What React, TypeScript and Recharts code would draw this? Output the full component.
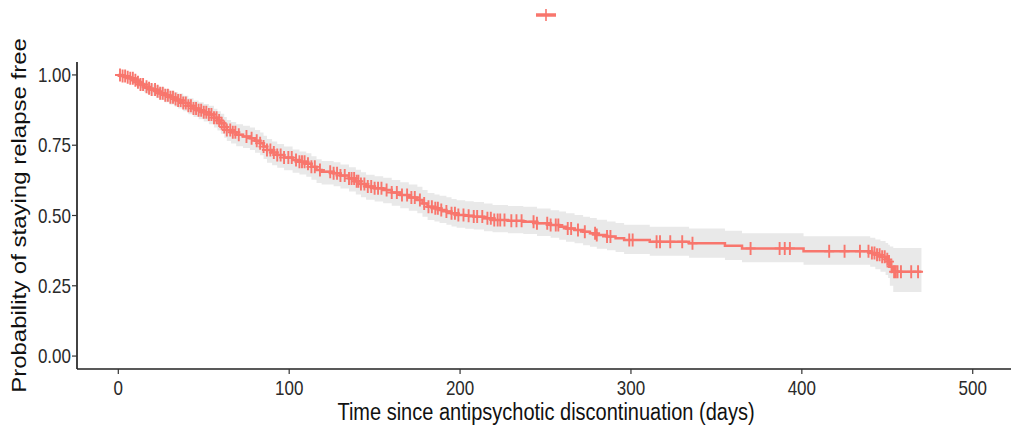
import React from "react";
import { ComposedChart, Area, Line, Scatter, XAxis, YAxis, Legend } from "recharts";

const RED = "#F8766D";
const FONT = "'Liberation Sans', Arial, Helvetica, sans-serif";

// Kaplan-Meier steps
const eventDays = [
  0, 2, 5, 7, 9, 11, 13, 15, 17, 19, 22, 24, 27, 30, 33, 35, 38, 41, 44, 47, 50, 53, 56, 58, 60, 62,
  63.5, 66, 69, 73, 77, 80, 83, 85, 87, 90, 93, 97, 102, 106, 110, 113, 116, 119, 126, 130, 135, 139,
  142, 145, 150, 155, 160, 165, 170, 175, 178, 181, 185, 188, 192, 195, 198, 203, 208, 214, 219, 228,
  237, 245, 253, 258, 262, 267, 272, 276, 280, 286, 291, 296, 311, 334, 355, 365, 401, 440, 443, 446,
  449, 450.5, 451.5, 453.5, 470,
];
const survival = [
  1.0, 0.996, 0.992, 0.988, 0.981, 0.974, 0.966, 0.958, 0.953, 0.948, 0.942, 0.935, 0.928, 0.921,
  0.914, 0.909, 0.9, 0.89, 0.881, 0.874, 0.867, 0.859, 0.848, 0.838, 0.828, 0.815, 0.804, 0.796, 0.787,
  0.781, 0.775, 0.766, 0.757, 0.745, 0.733, 0.724, 0.715, 0.706, 0.697, 0.691, 0.684, 0.673, 0.662,
  0.656, 0.65, 0.642, 0.632, 0.622, 0.612, 0.603, 0.597, 0.591, 0.582, 0.573, 0.564, 0.555, 0.543,
  0.531, 0.526, 0.52, 0.514, 0.508, 0.502, 0.499, 0.496, 0.49, 0.484, 0.481, 0.478, 0.472, 0.466, 0.46,
  0.454, 0.448, 0.442, 0.437, 0.431, 0.425, 0.419, 0.413, 0.407, 0.401, 0.392, 0.383, 0.373, 0.367,
  0.36, 0.353, 0.344, 0.336, 0.318, 0.3, 0.3,
];
const upperCI = [
  1.0, 1.0, 1.0, 0.998, 0.993, 0.988, 0.982, 0.975, 0.971, 0.967, 0.962, 0.956, 0.95, 0.944, 0.938,
  0.934, 0.926, 0.917, 0.909, 0.903, 0.897, 0.89, 0.88, 0.871, 0.862, 0.85, 0.84, 0.833, 0.825, 0.819,
  0.813, 0.804, 0.795, 0.784, 0.772, 0.763, 0.754, 0.745, 0.735, 0.728, 0.721, 0.711, 0.7, 0.694,
  0.689, 0.681, 0.672, 0.663, 0.654, 0.645, 0.64, 0.634, 0.626, 0.618, 0.61, 0.602, 0.591, 0.58, 0.575,
  0.57, 0.565, 0.559, 0.554, 0.551, 0.548, 0.543, 0.537, 0.534, 0.531, 0.525, 0.519, 0.514, 0.508,
  0.502, 0.496, 0.491, 0.485, 0.479, 0.473, 0.467, 0.46, 0.454, 0.446, 0.437, 0.426, 0.421, 0.415,
  0.409, 0.402, 0.396, 0.39, 0.384, 0.384,
];
const lowerCI = [
  1.0, 0.988, 0.981, 0.975, 0.966, 0.957, 0.948, 0.938, 0.932, 0.926, 0.919, 0.911, 0.903, 0.895,
  0.887, 0.881, 0.871, 0.86, 0.85, 0.842, 0.834, 0.825, 0.813, 0.802, 0.791, 0.777, 0.765, 0.756, 0.746,
  0.74, 0.733, 0.723, 0.714, 0.701, 0.688, 0.679, 0.67, 0.661, 0.652, 0.646, 0.638, 0.627, 0.616, 0.61,
  0.604, 0.596, 0.585, 0.575, 0.565, 0.556, 0.55, 0.544, 0.535, 0.526, 0.517, 0.508, 0.496, 0.484,
  0.479, 0.473, 0.467, 0.461, 0.456, 0.453, 0.45, 0.444, 0.44, 0.437, 0.434, 0.427, 0.421, 0.414,
  0.407, 0.401, 0.394, 0.389, 0.382, 0.376, 0.37, 0.363, 0.357, 0.35, 0.342, 0.334, 0.325, 0.318,
  0.309, 0.3, 0.288, 0.278, 0.25, 0.228, 0.228,
];

// censored observations (+ marks)
const censorDays = [
  1, 2.5, 4, 5.5, 7, 8.5, 10, 11.5, 13, 14.5, 16.5, 18, 19.5, 21.5, 23, 24.5, 26, 27.5, 29, 30.5, 32,
  33.5, 35, 36.5, 38, 39.5, 41, 42.5, 44, 45.5, 47, 48.5, 50, 51.5, 53, 54.5, 56, 57.5, 59, 60.5, 62,
  63.5, 65.5, 67, 68.5, 70.5, 75, 78, 81, 83, 85, 87, 89, 91, 93, 95, 97, 99.5, 101.5, 104, 106, 107.5,
  109, 111, 113, 115, 118, 124, 126, 128, 130, 132.5, 135, 136.5, 138, 139.5, 140.5, 142, 144, 146, 148,
  150, 152, 154, 157, 160, 163, 166, 169, 171.5, 173.5, 176.5, 179, 181.5, 183.5, 185.5, 187, 189, 192,
  195, 197, 199, 202, 205, 208, 210, 213, 216, 218, 220, 222, 223.5, 226, 230, 233, 236, 243, 245, 251,
  253, 256, 257.5, 263, 265, 269, 273, 279, 280, 286, 288, 299, 301, 315, 317, 323, 330, 336, 370, 387,
  390, 393, 416, 425, 434, 439, 441, 442.5, 444, 445.5, 447, 448.5, 450, 451, 452.5, 454, 455, 456, 458,
  464, 468,
];

const xTicks = [0, 100, 200, 300, 400, 500];
const yTicks = [0, 0.25, 0.5, 0.75, 1];

const curve = eventDays.map((t, i) => ({ t, s: survival[i], band: [lowerCI[i], upperCI[i]] }));

function survAt(day: number) {
  let s = survival[0];
  for (let i = 0; i < eventDays.length; i++) if (eventDays[i] <= day) s = survival[i];
  return s;
}
const censored = censorDays.map((t) => ({ t, s: survAt(t) }));

const XTick = ({ x, y, payload }: any) => (
  <g transform={`translate(${x},${y}) scale(1,1.2)`}>
    <text x={0} y={0} dy={16} textAnchor="middle" fill="#2a2a2a" fontSize={17} fontFamily={FONT}>
      {payload.value}
    </text>
  </g>
);

const YTick = ({ x, y, payload }: any) => (
  <g transform={`translate(${x},${y}) scale(1,1.2)`}>
    <text x={0} y={0} dy={6} textAnchor="end" fill="#2a2a2a" fontSize={17} fontFamily={FONT}>
      {Number(payload.value).toFixed(2)}
    </text>
  </g>
);

const Cross = ({ cx, cy }: any) => (
  <path d={`M${cx - 5},${cy}H${cx + 5}M${cx},${cy - 6.5}V${cy + 6.5}`} stroke={RED} strokeWidth={1.9} fill="none" />
);

const LegendBox = () => (
  <div style={{ position: "relative", width: 1011, height: 62 }}>
    <svg style={{ position: "absolute", left: 533, top: 8 }} width={26} height={14}>
      <line x1={3} y1={7} x2={23} y2={7} stroke={RED} strokeWidth={3.5} />
      <line x1={13} y1={1} x2={13} y2={13} stroke={RED} strokeWidth={1.6} />
    </svg>
  </div>
);

export default function App() {
  return (
    <div style={{ position: "absolute", left: 0, top: 0, background: "#fff" }}>
      <ComposedChart width={1011} height={430} data={curve} margin={{ top: 0, right: 0, bottom: 0, left: 0 }}>
        <Legend
          verticalAlign="top"
          content={<LegendBox />}
          wrapperStyle={{ top: 0, left: 0, width: 1011, height: 62 }}
        />
        <XAxis
          dataKey="t"
          type="number"
          domain={[-24.17, 522.4]}
          ticks={xTicks}
          allowDataOverflow
          height={61}
          tickSize={5}
          tickMargin={2}
          axisLine={{ stroke: "#222", strokeWidth: 1.7 }}
          tickLine={{ stroke: "#333", strokeWidth: 1.2 }}
          tick={<XTick />}
          label={{
            content: ({ viewBox }: any) => (
              <g transform={`translate(${viewBox.x + viewBox.width / 2 + 2},${viewBox.y + 51}) scale(1,1.15)`}>
                <text x={0} y={0} textAnchor="middle" fill="#111" fontSize={20} fontFamily={FONT}>
                  Time since antipsychotic discontinuation (days)
                </text>
              </g>
            ),
          }}
        />
        <YAxis
          type="number"
          domain={[-0.046, 1.046]}
          ticks={yTicks}
          allowDataOverflow
          width={77}
          tickSize={5}
          tickMargin={1}
          axisLine={{ stroke: "#222", strokeWidth: 1.7 }}
          tickLine={{ stroke: "#333", strokeWidth: 1.2 }}
          tick={<YTick />}
          label={{
            content: ({ viewBox }: any) => (
              <g transform={`translate(${viewBox.x + 26},${viewBox.y + viewBox.height / 2}) rotate(-90) scale(1.2,1)`}>
                <text x={0} y={0} textAnchor="middle" fill="#111" fontSize={20} fontFamily={FONT}>
                  Probability of staying relapse free
                </text>
              </g>
            ),
          }}
        />
        <Area
          dataKey="band"
          type="stepAfter"
          stroke="none"
          fill="#e9e9e9"
          fillOpacity={1}
          isAnimationActive={false}
          activeDot={false}
        />
        <Line
          dataKey="s"
          type="stepAfter"
          stroke={RED}
          strokeWidth={2.5}
          dot={false}
          activeDot={false}
          isAnimationActive={false}
        />
        <Scatter data={censored} dataKey="s" shape={<Cross />} isAnimationActive={false} />
      </ComposedChart>
    </div>
  );
}
